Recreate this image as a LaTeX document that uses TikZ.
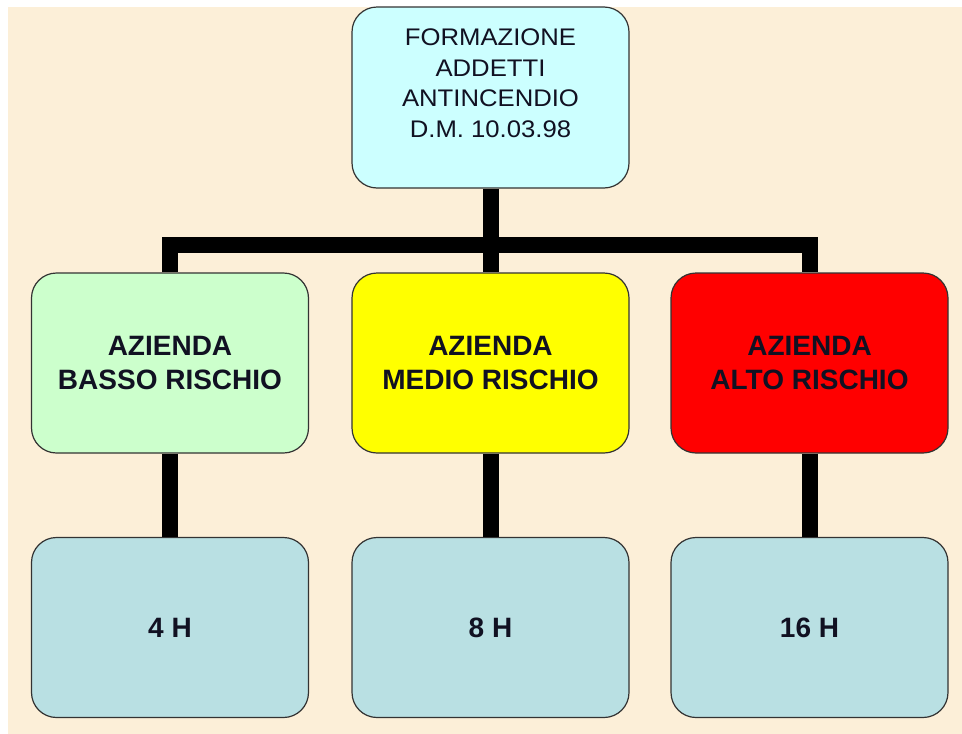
\documentclass[tikz,border=0pt]{standalone}
\usepackage{fontspec}
\setmainfont{Liberation Sans}
\newfontfamily\topfont[FakeStretch=1.07]{Liberation Sans}
\definecolor{paper}{HTML}{FCEFD8}
\definecolor{topfill}{HTML}{CCFFFF}
\definecolor{lowfill}{HTML}{CCFFCC}
\definecolor{midfill}{HTML}{FFFF00}
\definecolor{highfill}{HTML}{FF0000}
\definecolor{hourfill}{HTML}{B9E0E3}
\definecolor{boxline}{HTML}{333333}
\definecolor{ink}{HTML}{111122}
\begin{document}
\begin{tikzpicture}[x=1pt,y=-1pt,
  box/.style={rounded corners=25pt, draw=boxline, line width=1.2pt,
    minimum width=277pt, minimum height=180pt, inner sep=0pt, text=ink},
  riskbox/.style={box, align=center, font=\fontsize{28}{34}\selectfont\bfseries},
  hourbox/.style={box, fill=hourfill, font=\fontsize{28}{34}\selectfont\bfseries},
  link/.style={line width=16pt, black, line join=miter}]
\useasboundingbox (0,0) rectangle (962,734);
\fill[white] (0,0) rectangle (962,734);
\fill[paper] (8,7) rectangle (962,734);

\node[box, fill=topfill, minimum height=181pt] (top) at (490.5,97.5)
  {\parbox[c][137pt][t]{270pt}{\centering\topfont\fontsize{24}{30.5}\selectfont
   FORMAZIONE\\ADDETTI\\ANTINCENDIO\\D.M. 10.03.98}};

\node[riskbox, fill=lowfill]  (lm) at (170,363)   {AZIENDA\\BASSO RISCHIO};
\node[riskbox, fill=midfill]  (mm) at (490.5,363) {AZIENDA\\MEDIO RISCHIO};
\node[riskbox, fill=highfill] (rm) at (809.5,363) {AZIENDA\\ALTO RISCHIO};

\node[hourbox] (lb) at (170,627.5)   {4 H};
\node[hourbox] (mb) at (490.5,627.5) {8 H};
\node[hourbox] (rb) at (809.5,627.5) {16 H};

\coordinate (bar) at (490.5,245);
\draw[link] (lm.north) |- (bar) -| (rm.north);
\draw[link] (top.south) -- (mm.north);
\draw[link] (lm.south) -- (lb.north);
\draw[link] (mm.south) -- (mb.north);
\draw[link] (rm.south) -- (rb.north);
\end{tikzpicture}
\end{document}
